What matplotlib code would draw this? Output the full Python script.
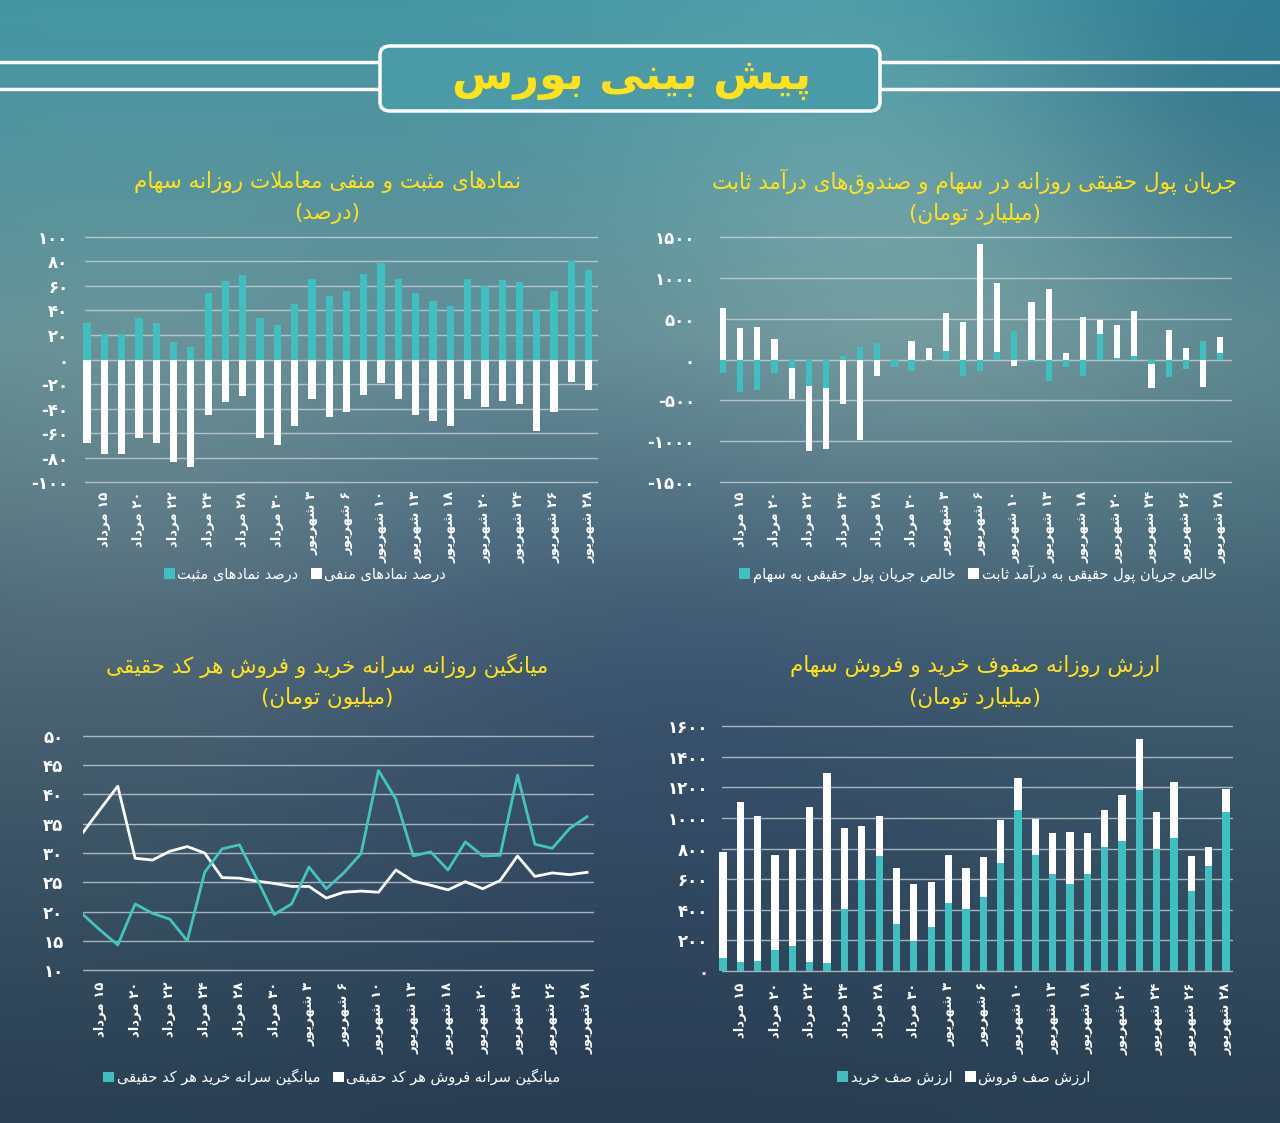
import re
import numpy as np
import matplotlib
matplotlib.use("Agg")
import matplotlib.pyplot as plt
from matplotlib.patches import Patch, FancyBboxPatch
from matplotlib.lines import Line2D
from matplotlib.ticker import FuncFormatter

# matplotlib 3.10 does no Arabic shaping, so map letters to presentation forms
FORMS = {
    'آ': '\uFE81\uFE82', 'ا': '\uFE8D\uFE8E', 'د': '\uFEA9\uFEAA', 'ذ': '\uFEAB\uFEAC',
    'ر': '\uFEAD\uFEAE', 'ز': '\uFEAF\uFEB0', 'ژ': '\uFB8A\uFB8B', 'و': '\uFEED\uFEEE',
    'ب': '\uFE8F\uFE90\uFE91\uFE92', 'پ': '\uFB56\uFB57\uFB58\uFB59',
    'ت': '\uFE95\uFE96\uFE97\uFE98', 'ث': '\uFE99\uFE9A\uFE9B\uFE9C',
    'ج': '\uFE9D\uFE9E\uFE9F\uFEA0', 'چ': '\uFB7A\uFB7B\uFB7C\uFB7D',
    'ح': '\uFEA1\uFEA2\uFEA3\uFEA4', 'خ': '\uFEA5\uFEA6\uFEA7\uFEA8',
    'س': '\uFEB1\uFEB2\uFEB3\uFEB4', 'ش': '\uFEB5\uFEB6\uFEB7\uFEB8',
    'ص': '\uFEB9\uFEBA\uFEBB\uFEBC', 'ض': '\uFEBD\uFEBE\uFEBF\uFEC0',
    'ط': '\uFEC1\uFEC2\uFEC3\uFEC4', 'ظ': '\uFEC5\uFEC6\uFEC7\uFEC8',
    'ع': '\uFEC9\uFECA\uFECB\uFECC', 'غ': '\uFECD\uFECE\uFECF\uFED0',
    'ف': '\uFED1\uFED2\uFED3\uFED4', 'ق': '\uFED5\uFED6\uFED7\uFED8',
    'ک': '\uFB8E\uFB8F\uFB90\uFB91', 'گ': '\uFB92\uFB93\uFB94\uFB95',
    'ل': '\uFEDD\uFEDE\uFEDF\uFEE0', 'م': '\uFEE1\uFEE2\uFEE3\uFEE4',
    'ن': '\uFEE5\uFEE6\uFEE7\uFEE8', 'ه': '\uFEE9\uFEEA\uFEEB\uFEEC',
    'ی': '\uFBFC\uFBFD\uFBFE\uFBFF',
}
LAM_ALEF = {'ا': '\uFEFB\uFEFC', 'آ': '\uFEF5\uFEF6'}


def fa(s):
    c = list(s)
    out = []
    i = 0
    while i < len(c):
        ch = c[i]
        if ch not in FORMS:
            if ch != '\u200c':
                out.append(ch)
            i += 1
            continue
        prev = i > 0 and c[i - 1] in FORMS and len(FORMS[c[i - 1]]) == 4
        if ch == 'ل' and i + 1 < len(c) and c[i + 1] in LAM_ALEF:
            out.append(LAM_ALEF[c[i + 1]][1 if prev else 0])
            i += 2
            continue
        f = FORMS[ch]
        nxt = len(f) == 4 and i + 1 < len(c) and c[i + 1] in FORMS
        if prev and nxt:
            out.append(f[3])
        elif nxt:
            out.append(f[2])
        elif prev:
            out.append(f[1])
        else:
            out.append(f[0])
        i += 1
    parts = re.findall(r'\d+|\D', ''.join(out))[::-1]
    mirror = {'(': ')', ')': '('}
    return ''.join(mirror.get(p, p) for p in parts)


def fanum(v, pos=None):
    s = str(int(round(v)))
    return s.translate(str.maketrans('0123456789', '۰۱۲۳۴۵۶۷۸۹'))


# ---------------- data ----------------
date_labels = ['۱۵ مرداد', '۲۰ مرداد', '۲۲ مرداد', '۲۴ مرداد', '۲۸ مرداد', '۳۰ مرداد',
               '۳ شهریور', '۶ شهریور', '۱۰ شهریور', '۱۳ شهریور', '۱۸ شهریور',
               '۲۰ شهریور', '۲۴ شهریور', '۲۶ شهریور', '۲۸ شهریور']

pos_pct = [30, 21, 21, 34, 30, 14, 10, 54, 64, 69, 34, 28, 45, 66, 52,
           56, 70, 79, 66, 54, 48, 44, 66, 60, 65, 63, 40, 56, 80, 73]
neg_pct = [-68, -77, -77, -64, -68, -84, -88, -45, -35, -30, -64, -70, -54, -32, -47,
           -43, -29, -19, -32, -45, -50, -54, -32, -39, -34, -36, -58, -43, -18, -25]

flow_stock = [-160, -395, -370, -170, -105, -320, -350, 40, 155, 205, -90, -140, -20, 100, -200,
              -140, 95, 350, -35, -260, -90, -200, 310, 20, 45, -50, -210, -115, 225, 80]
flow_fixed = [635, 380, 395, 255, -380, -795, -745, -545, -990, -200, 0, 230, 140, 475, 455,
              1415, 835, -80, 705, 865, 75, 525, 170, 400, 545, -295, 355, 140, -335, 190]

buy_pc = [19.5, 16.8, 14.3, 21.3, 19.7, 18.7, 15.0, 26.7, 30.7, 31.4, 25.6, 19.5, 21.3, 27.6, 23.9,
          26.6, 29.9, 44.1, 39.2, 29.5, 30.2, 27.1, 31.9, 29.5, 29.6, 43.3, 31.5, 30.8, 34.2, 36.2]
sell_pc = [33.5, 37.5, 41.4, 29.1, 28.8, 30.3, 31.1, 30.0, 25.8, 25.7, 25.2, 24.8, 24.3, 24.3, 22.3,
           23.3, 23.5, 23.3, 27.1, 25.2, 24.5, 23.7, 25.1, 23.9, 25.3, 29.5, 26.0, 26.6, 26.3, 26.7]

buy_queue = [85, 60, 65, 140, 165, 60, 50, 405, 595, 750, 305, 195, 285, 445, 405,
             480, 705, 1050, 760, 635, 565, 635, 810, 850, 1185, 800, 870, 525, 685, 1040]
sell_queue = [690, 1045, 950, 615, 630, 1010, 1245, 530, 355, 260, 365, 370, 295, 310, 265,
              265, 280, 210, 235, 265, 345, 265, 245, 300, 330, 240, 365, 225, 125, 150]

TEAL = '#3fbfc0'
YELLOW = '#ffe21a'
W, H = 1280, 1123

plt.rcParams['font.family'] = ['DejaVu Sans']
fig = plt.figure(figsize=(W / 100, H / 100), dpi=100)

# ---------------- background ----------------
bgax = fig.add_axes([0, 0, 1, 1], zorder=-10)
gy, gx = np.mgrid[0:1:120j, 0:1:140j]
stops = [0.0, 0.3, 0.55, 1.0]
cols = np.array([[68, 150, 164], [92, 138, 146], [66, 98, 114], [42, 64, 82]], float)
bg = np.stack([np.interp(gy, stops, cols[:, k]) for k in range(3)], axis=-1)
for cx, cy, r, add in [(0.72, 0.22, 0.18, [30, 24, 16]), (0.12, 0.45, 0.2, [20, 14, 10]),
                       (0.98, 0.05, 0.15, [-25, -30, -20]), (0.5, 0.62, 0.25, [-6, -10, 0])]:
    g = np.exp(-((gx - cx) ** 2 + (gy - cy) ** 2) / (2 * r ** 2))
    bg += g[..., None] * np.array(add, float)
bgax.imshow(np.clip(bg, 0, 255).astype(np.uint8), extent=[0, 1, 0, 1], aspect='auto',
            interpolation='bicubic')
bgax.set_axis_off()

# ---------------- header ----------------
for yl in (62, 89):
    fig.add_artist(Line2D([0, 377 / W], [1 - yl / H] * 2, color='white', lw=2.5))
    fig.add_artist(Line2D([882 / W, 1], [1 - yl / H] * 2, color='white', lw=2.5))
box = FancyBboxPatch((380 / W, 1 - 111 / H), 500 / W, 65 / H,
                     boxstyle='round,pad=0,rounding_size=0.008', transform=fig.transFigure,
                     fc='#4a9aa8', ec='white', lw=2.5)
fig.add_artist(box)
fig.text(632 / W, 1 - 79 / H, fa('پیش بینی بورس'), color=YELLOW, fontsize=32,
         fontweight='bold', ha='center', va='center')


def add_ax(x0, x1, y0, y1):
    return fig.add_axes([x0 / W, 1 - y1 / H, (x1 - x0) / W, (y1 - y0) / H])


def style(ax, ticks, ylab_pad, xlab_pad):
    for s in ax.spines.values():
        s.set_visible(False)
    ax.set_facecolor('none')
    ax.set_yticks(ticks)
    ax.yaxis.set_major_formatter(FuncFormatter(fanum))
    ax.grid(axis='y', color='#d0d8dc', lw=1, alpha=0.75)
    ax.set_axisbelow(True)
    ax.set_xticks(np.arange(1, 30, 2))
    ax.set_xticklabels([fa(d) for d in date_labels], rotation=90)
    ax.tick_params(length=0, colors='white', labelsize=9.5)
    ax.tick_params(axis='y', pad=ylab_pad, labelsize=12)
    ax.tick_params(axis='x', pad=xlab_pad)
    for t in ax.get_xticklabels() + ax.get_yticklabels():
        t.set_fontweight('bold')


def legend(ax, labels, cx, cy):
    ax.legend(handles=[Patch(fc=TEAL), Patch(fc='white')], labels=[fa(l) for l in labels],
              ncol=2, loc='center', bbox_to_anchor=(cx / W, 1 - cy / H),
              bbox_transform=fig.transFigure, frameon=False, handlelength=0.75,
              handleheight=0.75, handletextpad=0.15, columnspacing=0.9,
              labelcolor='white', fontsize=10.5)


def titles(cx, cy, t1, t2):
    fig.text(cx / W, 1 - cy / H, fa(t1), color=YELLOW, fontsize=15.5, ha='center', va='center')
    fig.text(cx / W, 1 - (cy + 32) / H, fa(t2), color=YELLOW, fontsize=15.5, ha='center',
             va='center')


x = np.arange(30)

# chart 1: positive / negative symbols
ax1 = add_ax(85, 598, 232, 487)
ax1.bar(x, pos_pct, width=0.42, color=TEAL, clip_on=False)
ax1.bar(x, neg_pct, width=0.42, color='white', clip_on=False)
ax1.set_xlim(-0.12, 29.54)
ax1.set_ylim(-104, 104)
style(ax1, np.arange(-100, 101, 20), 12, 3)
titles(327, 182, 'نمادهای مثبت و منفی معاملات روزانه سهام', '(درصد)')
legend(ax1, ['درصد نمادهای مثبت', 'درصد نمادهای منفی'], 305, 574)

# chart 2: real money flow
ax2 = add_ax(720, 1232, 232, 487)
fs = np.array(flow_stock)
ff = np.array(flow_fixed)
ax2.bar(x, fs, width=0.36, color=TEAL, clip_on=False)
ax2.bar(x, ff, bottom=np.where(np.sign(fs) == np.sign(ff), fs, 0), width=0.36,
        color='white', clip_on=False)
ax2.set_xlim(-0.18, 29.7)
ax2.set_ylim(-1560, 1560)
style(ax2, np.arange(-1500, 1501, 500), 18, 3)
titles(975, 182, 'جریان پول حقیقی روزانه در سهام و صندوق\u200cهای درآمد ثابت', '(میلیارد تومان)')
legend(ax2, ['خالص جریان پول حقیقی به سهام', 'خالص جریان پول حقیقی به درآمد ثابت'], 978, 574)

# chart 3: per-capita buy / sell
ax3 = add_ax(83, 594, 730, 976)
ax3.plot(x, sell_pc, color='white', lw=2)
ax3.plot(x, buy_pc, color='#45c4bd', lw=2)
ax3.set_xlim(0, 29.4)
ax3.set_ylim(9, 51)
style(ax3, np.arange(10, 51, 5), 14, 4)
titles(327, 666, 'میانگین روزانه سرانه خرید و فروش هر کد حقیقی', '(میلیون تومان)')
legend(ax3, ['میانگین سرانه خرید هر کد حقیقی', 'میانگین سرانه فروش هر کد حقیقی'], 332, 1077)

# chart 4: buy / sell queues
ax4 = add_ax(722, 1233, 720, 974)
ax4.bar(x, buy_queue, width=0.42, color=TEAL, clip_on=False)
ax4.bar(x, sell_queue, bottom=buy_queue, width=0.42, color='white', clip_on=False)
ax4.set_xlim(-0.06, 29.4)
ax4.set_ylim(-20, 1640)
style(ax4, np.arange(0, 1601, 200), 10, 6)
titles(975, 666, 'ارزش روزانه صفوف خرید و فروش سهام', '(میلیارد تومان)')
legend(ax4, ['ارزش صف خرید', 'ارزش صف فروش'], 964, 1077)

fig.savefig('out.png', dpi=100)
